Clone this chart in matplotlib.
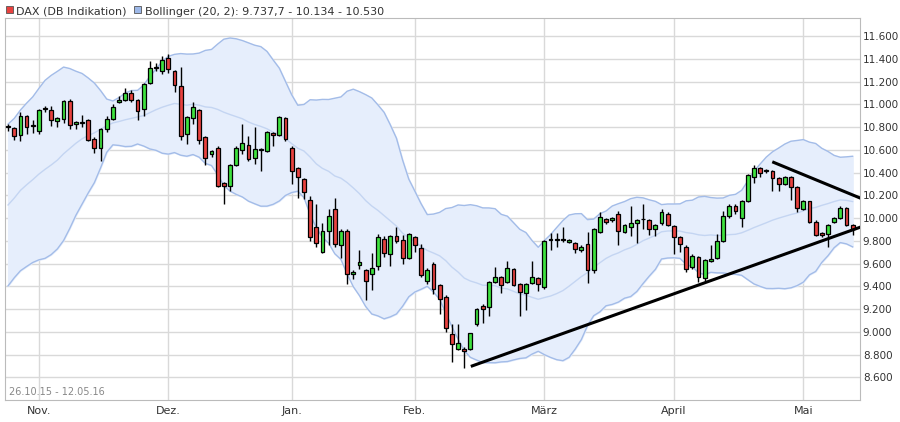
import matplotlib.pyplot as plt
import numpy as np
import pandas as pd
from matplotlib.patches import Rectangle

# daily candles, 26.10.15 - 12.05.16
opens = [10800, 10790, 10730, 10900, 10820, 10770, 10960, 10950, 10850, 10870, 11030, 10830, 10840, 10860, 10700, 10620, 10780, 10870, 11020, 11040, 11100, 11040,
         10960, 11190, 11320, 11290, 11410, 11290, 11160, 10740, 10880, 10950, 10710, 10560, 10620, 10310, 10280, 10470, 10600, 10640, 10530, 10600, 10590, 10750, 10730,
         10880, 10620, 10440, 10340, 10160, 9920, 9700, 9890, 10080, 9760, 9890, 9510, 9590, 9540, 9510, 9580, 9820, 9680, 9840, 9810, 9650, 9830, 9740, 9450,
         9600, 9410, 9310, 8980, 8850, 8850, 8850, 9070, 9230, 9220, 9440, 9480, 9440, 9550, 9420, 9340, 9430, 9470, 9390, 9810, 9810, 9810, 9790, 9780, 9720,
         9770, 9540, 9880, 9990, 9980, 10040, 9880, 9920, 9960, 9990, 9980, 9900, 9960, 10040, 9930, 9830, 9750, 9570, 9660, 9470, 9620, 9650, 9800,
         10020, 10110, 10000, 10150, 10360, 10440, 10410, 10410, 10350, 10300, 10360, 10270, 10080, 10150, 9970, 9870, 9860, 9970, 10000, 10090, 9940]
closes = [10800, 10720, 10900, 10800, 10810, 10950, 10960, 10860, 10880, 11030, 10820, 10845, 10840, 10690, 10620, 10780, 10870, 10980, 11040, 11100, 11040, 10940,
          11180, 11320, 11320, 11390, 11310, 11170, 10720, 10890, 10980, 10690, 10530, 10590, 10280, 10280, 10470, 10620, 10660, 10520, 10610, 10600, 10760, 10730, 10890,
          10700, 10410, 10360, 10230, 9830, 9780, 9890, 10020, 9770, 9890, 9510, 9530, 9610, 9450, 9560, 9830, 9690, 9840, 9800, 9650, 9860, 9760, 9500, 9540,
          9380, 9290, 9030, 8890, 8900, 8830, 8990, 9200, 9200, 9440, 9480, 9410, 9560, 9410, 9350, 9420, 9480, 9420, 9800, 9810, 9810, 9810, 9810, 9730, 9750,
          9540, 9900, 10010, 9970, 10000, 9890, 9940, 9960, 9980, 9990, 9900, 9940, 10050, 9940, 9830, 9770, 9550, 9670, 9480, 9630, 9640, 9800, 10020,
          10110, 10060, 10150, 10380, 10440, 10400, 10420, 10350, 10300, 10360, 10270, 10090, 10150, 9970, 9850, 9850, 9940, 10000, 10090, 9940, 9900]
highs = [10830, 10800, 10930, 10910, 10860, 10960, 10990, 10990, 10890, 11040, 11050, 10850, 10910, 10870, 10710, 10790, 10900, 11000, 11070, 11140, 11130, 11050,
         11190, 11380, 11360, 11430, 11440, 11300, 11330, 10900, 11020, 10960, 10720, 10600, 10630, 10320, 10480, 10630, 10830, 10720, 10800, 10620, 10770, 10760, 10900,
         10890, 10630, 10450, 10350, 10190, 10120, 9960, 10080, 10180, 9900, 9900, 9540, 9720, 9550, 9690, 9860, 9840, 9850, 9920, 9850, 9870, 9840, 9770, 9560,
         9610, 9420, 9320, 9070, 9070, 8870, 8990, 9210, 9240, 9450, 9570, 9490, 9620, 9560, 9430, 9430, 9620, 9480, 9810, 9870, 9870, 9920, 9820, 9790, 9760,
         9880, 9910, 10050, 10000, 10010, 10060, 9950, 10110, 9990, 10120, 9990, 9950, 10080, 10050, 9940, 9840, 9760, 9680, 9670, 9640, 9760, 9860, 10060,
         10120, 10120, 10160, 10390, 10470, 10450, 10430, 10420, 10360, 10370, 10370, 10280, 10160, 10150, 9980, 9880, 9950, 10010, 10110, 10100, 9950]
lows = [10770, 10690, 10680, 10740, 10750, 10740, 10930, 10810, 10800, 10840, 10780, 10780, 10800, 10680, 10570, 10500, 10760, 10860, 11010, 11030, 11020, 10860,
        10900, 11180, 11290, 11270, 11280, 11110, 10690, 10650, 10830, 10650, 10470, 10540, 10270, 10120, 10240, 10460, 10560, 10500, 10480, 10410, 10580, 10630, 10720,
        10680, 10300, 10180, 10170, 9800, 9750, 9690, 9760, 9750, 9650, 9420, 9460, 9550, 9280, 9370, 9540, 9660, 9580, 9780, 9600, 9640, 9700, 9480, 9420,
        9330, 9160, 9000, 8730, 8840, 8680, 8840, 9050, 9080, 9140, 9430, 9340, 9430, 9400, 9140, 9190, 9420, 9360, 9380, 9720, 9750, 9790, 9780, 9690, 9700,
        9430, 9520, 9870, 9950, 9970, 9760, 9870, 9840, 9780, 9900, 9850, 9840, 9940, 9930, 9680, 9700, 9530, 9550, 9440, 9450, 9610, 9640, 9790,
        10000, 10040, 9920, 10140, 10310, 10360, 10400, 10240, 10240, 10290, 10160, 10050, 10070, 9960, 9840, 9830, 9750, 9960, 9990, 9930, 9850]

# closes before the chart window, needed to start the 20-day bands
history = [9510, 9550, 9820, 9900, 9970, 10120, 10090, 10030, 9920, 9890, 9920, 10060, 10100, 10160, 10150, 10240, 10490, 10790, 10800]

month_labels = ["Nov.", "Dez.", "Jan.", "Feb.", "März", "April", "Mai"]
yticks = [8600, 8800, 9000, 9200, 9400, 9600, 9800, 10000, 10200, 10400, 10600, 10800, 11000, 11200, 11400, 11600]

# trend lines drawn on the chart: (index, value)
support = [(75.3, 8700), (140.3, 9960)]
resistance = [(124.2, 10490), (140.3, 10130)]

n = len(closes)
holidays = pd.to_datetime(["2015-12-24", "2015-12-25", "2015-12-31", "2016-01-01", "2016-03-25", "2016-03-28"])
days = pd.bdate_range("2015-10-26", "2016-05-13")
days = days[~days.isin(holidays)][:n]

all_close = pd.Series(history + closes)
mid = all_close.rolling(20).mean().to_numpy()[len(history):]
sd = all_close.rolling(20).std(ddof=0).to_numpy()[len(history):]
upper = mid + 2 * sd
lower = mid - 2 * sd

fig = plt.figure(figsize=(9, 4.22), dpi=100)
ax = fig.add_axes([5 / 900, 22 / 422, 855 / 900, 382 / 422])
x = np.arange(n)

ax.fill_between(x, lower, upper, color="#e6eefc", zorder=1)
ax.plot(x, upper, color="#a3bce8", lw=1, zorder=2)
ax.plot(x, lower, color="#a3bce8", lw=1, zorder=2)
ax.plot(x, mid, color="#c4d5f2", lw=1, zorder=2)

w = 0.62
for i in range(n):
    o, c, h, l = opens[i], closes[i], highs[i], lows[i]
    ax.vlines(i, l, h, color="black", lw=1, zorder=3)
    col = "#3ee23e" if c > o else "#e8423f"
    bottom = min(o, c)
    height = max(abs(c - o), 6)
    ax.add_patch(Rectangle((i - w / 2, bottom), w, height, facecolor=col, edgecolor="black", lw=0.9, zorder=4))

ax.plot([p[0] for p in support], [p[1] for p in support], color="black", lw=2.2, zorder=5)
ax.plot([p[0] for p in resistance], [p[1] for p in resistance], color="black", lw=2.2, zorder=5)

month_pos = [i for i in range(1, n) if days[i].month != days[i - 1].month]
ax.set_xticks(month_pos)
ax.set_xticklabels(month_labels, fontsize=8, color="#333333")
ax.set_xlim(-0.5, n + 0.2)
ax.set_ylim(8400, 11760)
ax.set_yticks(yticks)
ax.set_yticklabels([f"{v:,}".replace(",", ".") for v in yticks], fontsize=7.5, color="#333333")
ax.yaxis.tick_right()
ax.tick_params(axis="x", length=0, pad=4)
ax.tick_params(axis="y", length=0, pad=2)
ax.grid(color="#d9d9d9", lw=1)
ax.set_axisbelow(True)
for s in ax.spines.values():
    s.set_color("#bbbbbb")

ax.text(0.005, 0.012, "26.10.15 - 12.05.16", transform=ax.transAxes, fontsize=7, color="#888888")

fig.patches.append(Rectangle((6, 409), 7, 7, transform=None, facecolor="#e8423f", edgecolor="#555555", lw=0.6))
fig.text(16 / 900, 1 - 12 / 422, "DAX (DB Indikation)", fontsize=8, va="center", color="#333333")
fig.patches.append(Rectangle((134, 409), 7, 7, transform=None, facecolor="#9db8e8", edgecolor="#555555", lw=0.6))
fig.text(145 / 900, 1 - 12 / 422, "Bollinger (20, 2): 9.737,7 - 10.134 - 10.530", fontsize=8, va="center", color="#333333")

fig.savefig("out.png", dpi=100)
